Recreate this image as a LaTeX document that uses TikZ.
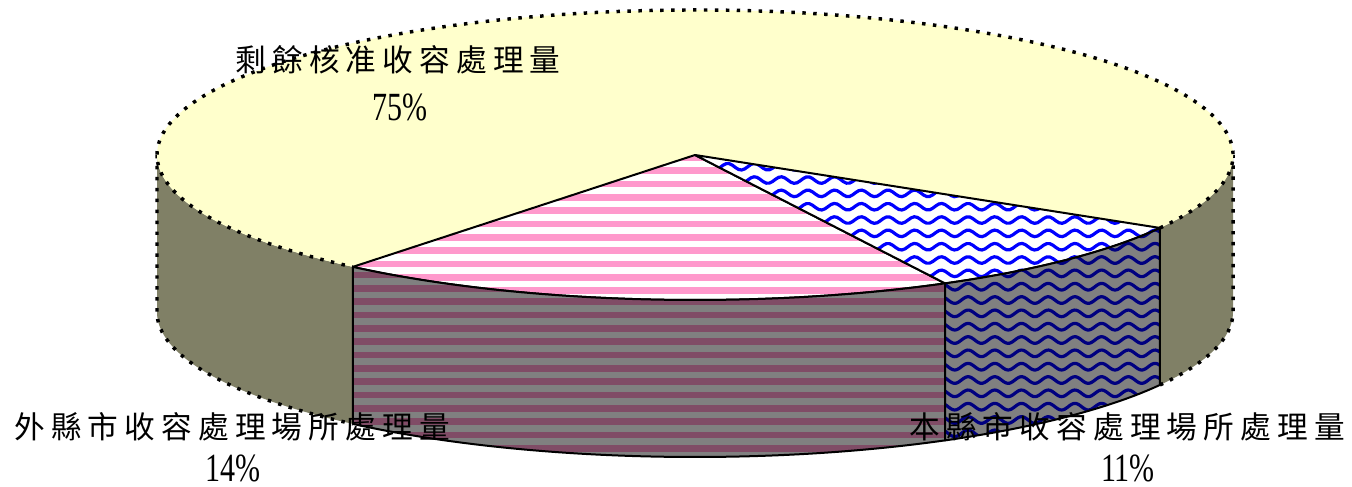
\documentclass[tikz,border=0pt]{standalone}
\usepackage{fontspec}
\newfontfamily\cjkfont{Noto Sans CJK TC}[LetterSpace=20]
\newfontfamily\numfont{Liberation Serif}
\usetikzlibrary{calc}
\definecolor{topyellow}{HTML}{FFFFCC}
\definecolor{sidekhaki}{HTML}{808066}
\definecolor{pinkband}{HTML}{FF99CC}
\definecolor{maroonband}{HTML}{804C66}
\definecolor{wallgray}{HTML}{808080}
\definecolor{waveblue}{HTML}{0000FF}
\definecolor{wavenavy}{HTML}{000080}
\tikzset{% 
	rim/.style={x radius=538,y radius=145},
	rimline/.style={line width=2.6pt,dash pattern=on 2.6pt off 5.6pt},
	sliceline/.style={line width=1.5pt,line join=round},
	wave/.style={line width=2.4pt,domain=#1,samples=160},
	labeltext/.style={font=\cjkfont\fontsize{23}{26}\selectfont,inner sep=0pt},
	pcttext/.style={inner sep=0pt}
}
\newcommand{\pct}[1]{\scalebox{0.75}[1]{\numfont\fontsize{30}{30}\selectfont #1}}

\begin{document}
\begin{tikzpicture}[x=0.75pt,y=0.75pt]
		\useasboundingbox (0,0) rectangle (1352,486);

		\coordinate (ctr) at (695,331);
		\coordinate (bctr) at (695,174);
		\coordinate (tl) at ($(ctr)+(180:538 and 145)$);
		\coordinate (tr) at ($(ctr)+(0:538 and 145)$);
		\coordinate (ta) at ($(ctr)+(230.5:538 and 145)$);
		\coordinate (tb) at ($(ctr)+(297.7:538 and 145)$);
		\coordinate (td) at ($(ctr)+(329.8:538 and 145)$);
		\coordinate (bl) at ($(bctr)+(180:538 and 145)$);
		\coordinate (ba) at ($(bctr)+(230.5:538 and 145)$);
		\coordinate (bb) at ($(bctr)+(297.7:538 and 145)$);
		\coordinate (bd) at ($(bctr)+(329.8:538 and 145)$);

		\fill [sidekhaki] (tl)--(bl) arc[rim,start angle=180,end angle=230.5]--(ta) arc[rim,start angle=230.5,end angle=180]--cycle;
		\fill [sidekhaki] (td)--(bd) arc[rim,start angle=329.8,end angle=360]--(tr) arc[rim,start angle=360,end angle=329.8]--cycle;
		\draw [rimline] (tl)--(bl) arc[rim,start angle=180,end angle=230.5];
		\draw [rimline] (bd) arc[rim,start angle=329.8,end angle=360]--(tr);

		\fill [topyellow] (ctr)--(td) arc[rim,start angle=329.8,end angle=590.5]--cycle;
		\draw [rimline] (td) arc[rim,start angle=329.8,end angle=590.5];

		\begin{scope}
			\clip (ctr)--(ta) arc[rim,start angle=230.5,end angle=297.7]--cycle;
			\fill [white] (340,180) rectangle (960,335);
			\foreach \k in {6,...,18}
				\fill [pinkband] (340,{98.7+\k*13.33}) rectangle (960,{98.7+\k*13.33+6.67});
		\end{scope}
		\draw [sliceline] (ctr)--(ta) arc[rim,start angle=230.5,end angle=297.7]--cycle;

		\begin{scope}
			\clip (ctr)--(tb) arc[rim,start angle=297.7,end angle=329.8]--cycle;
			\fill [white] (680,195) rectangle (1170,335);
			\foreach \k in {0,...,10}
				\draw [waveblue,wave=680:1170] plot (\x,{199.3+\k*13.33+3.3*sin(\x*13.48)});
		\end{scope}
		\draw [sliceline] (ctr)--(tb) arc[rim,start angle=297.7,end angle=329.8]--cycle;

		\begin{scope}
			\clip (ta) arc[rim,start angle=230.5,end angle=297.7]--(bb) arc[rim,start angle=297.7,end angle=230.5]--cycle;
			\fill [wallgray] (340,20) rectangle (960,225);
			\foreach \k in {0,...,15}
				\fill [maroonband] (340,{21.1+\k*13.33}) rectangle (960,{21.1+\k*13.33+6.67});
		\end{scope}
		\draw [sliceline] (ta) arc[rim,start angle=230.5,end angle=297.7]--(bb) arc[rim,start angle=297.7,end angle=230.5]--cycle;

		\begin{scope}
			\clip (tb) arc[rim,start angle=297.7,end angle=329.8]--(bd) arc[rim,start angle=329.8,end angle=297.7]--cycle;
			\fill [wallgray] (940,30) rectangle (1170,265);
			\foreach \k in {0,...,18}
				\draw [wavenavy,wave=940:1170] plot (\x,{26+\k*13.33+3.3*sin(\x*13.48)});
		\end{scope}
		\draw [sliceline] (tb) arc[rim,start angle=297.7,end angle=329.8]--(bd) arc[rim,start angle=329.8,end angle=297.7]--cycle;

		\node [labeltext] (restlbl) at (398,426) {剩餘核准收容處理量};
		\node [pcttext] (restpct) at (400,379) {\pct{75\%}};
		\node [labeltext] (outlbl) at (232,59) {外縣市收容處理場所處理量};
		\node [pcttext] (outpct) at (233,18) {\pct{14\%}};
		\node [labeltext] (locallbl) at (1127,59) {本縣市收容處理場所處理量};
		\node [pcttext] (localpct) at (1128,18) {\pct{11\%}};

	\end{tikzpicture}
\end{document}
